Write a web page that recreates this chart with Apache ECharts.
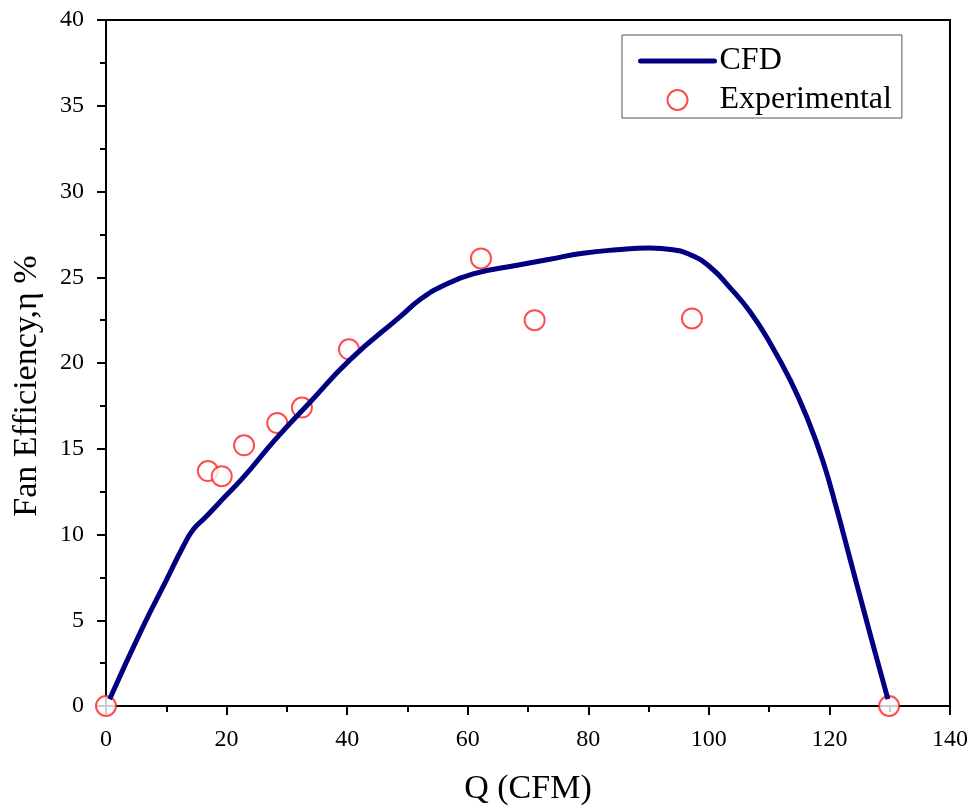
<!DOCTYPE html>
<html>
<head>
<meta charset="utf-8">
<script src="https://cdn.jsdelivr.net/npm/echarts@6/dist/echarts.min.js"></script>
<style>
  html, body { margin: 0; padding: 0; background: #fff; }
  #main { width: 971px; height: 807px; }
</style>
</head>
<body>
<div id="main"></div>
<script>
// CFD curve (Q in CFM, efficiency in %)
var cfdQ = [0.6, 6.1, 10.1, 12.8, 14.5, 16.5, 18.9, 22.7, 28.0, 33.8, 40.5, 48.8, 52.1, 55.9, 60.9, 68.2, 73.6,
            79.1, 84.7, 90.2, 94.0, 97.0, 100.2, 103.5, 106.8, 110.1, 113.5, 116.3, 118.9, 121.2, 123.4, 125.6, 127.9, 129.7];
var cfdEff = [0.4, 4.6, 7.4, 9.3, 10.3, 11.0, 11.9, 13.3, 15.5, 17.7, 20.2, 22.7, 23.7, 24.5, 25.2, 25.7, 26.05,
              26.4, 26.6, 26.7, 26.6, 26.3, 25.6, 24.4, 23.0, 21.2, 19.0, 16.8, 14.3, 11.5, 8.6, 5.7, 2.7, 0.4];

// experimental points
var expQ = [0, 16.9, 19.2, 22.9, 28.4, 32.5, 40.3, 62.2, 71.1, 97.2, 129.9];
var expEff = [0, 13.7, 13.4, 15.2, 16.5, 17.4, 20.8, 26.1, 22.5, 22.6, 0];

var xTicks = [0, 20, 40, 60, 80, 100, 120, 140];
var yTicks = [0, 5, 10, 15, 20, 25, 30, 35, 40];

var cfdData = cfdQ.map(function (q, i) { return [q, cfdEff[i]]; });
var expData = expQ.map(function (q, i) { return [q, expEff[i]]; });

var font = '"Liberation Serif", "Times New Roman", serif';

var chart = echarts.init(document.getElementById('main'));
var option = {
    backgroundColor: '#fff',
    textStyle: { fontFamily: font, color: '#000' },
    grid: {
        left: 106, right: 21, top: 20, bottom: 101,
        outerBoundsMode: 'none',
        show: true, borderColor: '#000', borderWidth: 2, backgroundColor: 'transparent'
    },
    legend: {
        orient: 'vertical',
        left: 622, top: 35,
        padding: [10, 10, 2, 16],
        itemWidth: 74, itemHeight: 20, itemGap: 7,
        borderColor: '#555', borderWidth: 1,
        textStyle: { fontFamily: font, fontSize: 32, color: '#000' },
        data: [
            { name: 'CFD', itemStyle: { opacity: 0 }, lineStyle: { color: '#000080', width: 5, cap: 'round' } },
            { name: 'Experimental' }
        ]
    },
    xAxis: {
        type: 'value',
        min: xTicks[0], max: xTicks[xTicks.length - 1], interval: 20,
        name: 'Q (CFM)', nameLocation: 'middle', nameGap: 66,
        nameTextStyle: { fontFamily: font, fontSize: 34, color: '#000' },
        axisLine: { onZero: false, lineStyle: { color: '#000', width: 2 } },
        axisTick: { show: true, inside: false, length: 9, lineStyle: { color: '#000', width: 2 } },
        minorTick: { show: true, splitNumber: 2, length: 6, lineStyle: { color: '#000', width: 2 } },
        axisLabel: { fontFamily: font, fontSize: 24, color: '#000', margin: 22 },
        splitLine: { show: false }
    },
    yAxis: {
        type: 'value',
        min: yTicks[0], max: yTicks[yTicks.length - 1], interval: 5,
        name: 'Fan Efficiency,\u03b7 %', nameLocation: 'middle', nameGap: 62, nameRotate: 90,
        nameTextStyle: { fontFamily: font, fontSize: 34, color: '#000', padding: [0, 46, 0, 0] },
        axisLine: { onZero: false, lineStyle: { color: '#000', width: 2 } },
        axisTick: { show: true, inside: false, length: 9, lineStyle: { color: '#000', width: 2 } },
        minorTick: { show: true, splitNumber: 2, length: 6, lineStyle: { color: '#000', width: 2 } },
        axisLabel: { fontFamily: font, fontSize: 24, color: '#000', margin: 22 },
        splitLine: { show: false }
    },
    series: [
        {
            name: 'CFD',
            type: 'line',
            data: cfdData,
            smooth: 0.5,
            symbol: 'none',
            lineStyle: { color: '#000080', width: 5 },
            itemStyle: { color: '#000080' },
            clip: true
        },
        {
            name: 'Experimental',
            type: 'scatter',
            data: expData,
            symbol: 'emptyCircle',
            symbolSize: 20,
            itemStyle: { color: '#ff2020', borderColor: '#ff2020', borderWidth: 1.3 },
            clip: true
        }
    ]
};
chart.setOption(option);
</script>
</body>
</html>
